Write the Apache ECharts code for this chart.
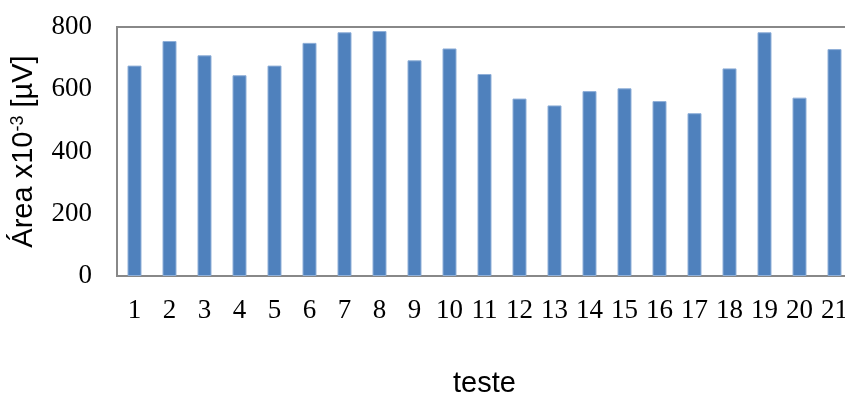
<!DOCTYPE html>
<html>
<head>
<meta charset="utf-8">
<script src="https://cdn.jsdelivr.net/npm/echarts@6/dist/echarts.min.js"></script>
<style>
  html, body { margin: 0; padding: 0; background: #fff; }
  #chart { width: 845px; height: 393px; }
</style>
</head>
<body>
<div id="chart"></div>
<script>
// Test numbers on the x axis
const categories = ['1','2','3','4','5','6','7','8','9','10','11','12','13','14','15','16','17','18','19','20','21'];
// Integrated area per test, in units of 10^-3 µV
const areaValues = [676, 755, 709, 645, 676, 749, 783, 787, 693, 731, 649, 570, 548, 594, 603, 562, 523, 667, 783, 573, 729];
// Value axis ticks
const yTicks = [0, 200, 400, 600, 800];

const chart = echarts.init(document.getElementById('chart'), null, { renderer: 'canvas' });

chart.setOption({
  animation: false,
  backgroundColor: '#ffffff',
  grid: {
    left: 117,
    top: 27,
    right: -7,
    bottom: 117,
    containLabel: false,
    outerBoundsMode: 'none',
    show: true,
    borderColor: '#888888',
    borderWidth: 2,
    backgroundColor: 'transparent'
  },
  xAxis: {
    type: 'category',
    data: categories,
    name: 'teste',
    nameLocation: 'middle',
    nameGap: 93,
    nameTextStyle: { fontFamily: 'Liberation Sans', fontSize: 29, color: '#000' },
    axisLine: { show: false },
    axisTick: { show: false },
    axisLabel: {
      interval: 0,
      margin: 21,
      fontFamily: 'Liberation Serif',
      fontSize: 27,
      color: '#000'
    }
  },
  yAxis: {
    type: 'value',
    min: yTicks[0],
    max: yTicks[yTicks.length - 1],
    interval: yTicks[1] - yTicks[0],
    name: '{n|Área x10}{s|-3}{n| [µV]}',
    nameLocation: 'middle',
    nameRotate: 90,
    nameGap: 75,
    nameTextStyle: {
      rich: {
        n: { fontFamily: 'Liberation Sans', fontSize: 29, color: '#000', lineHeight: 30, verticalAlign: 'bottom' },
        s: { fontFamily: 'Liberation Sans', fontSize: 18, color: '#000', lineHeight: 30, verticalAlign: 'top', padding: [0, 0, 14, 0] }
      }
    },
    splitLine: { show: false },
    axisLine: { show: false },
    axisTick: { show: false },
    axisLabel: {
      margin: 25,
      fontFamily: 'Liberation Serif',
      fontSize: 27,
      color: '#000'
    }
  },
  series: [{
    type: 'bar',
    data: areaValues,
    barWidth: 14,
    itemStyle: {
      color: '#4F81BD',
      borderColor: '#8FAFD8',
      borderWidth: 1
    }
  }]
});
</script>
</body>
</html>
